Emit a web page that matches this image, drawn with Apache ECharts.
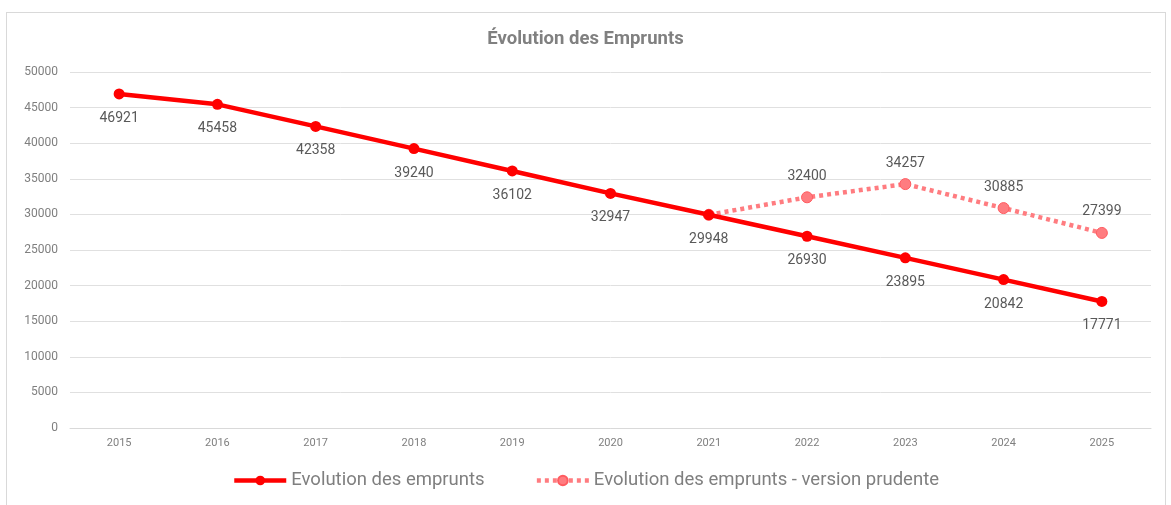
<!DOCTYPE html>
<html><head><meta charset="utf-8">
<script src="https://cdn.jsdelivr.net/npm/echarts@6/dist/echarts.min.js"></script>
<style>
html,body{margin:0;padding:0;background:#fff;}
#frame{position:absolute;left:6px;top:12px;width:1158px;height:520px;border:1px solid #d9d9d9;}
#c{position:absolute;left:0;top:0;width:1171px;height:505px;}
</style></head>
<body><div id="frame"></div><div id="c"></div>
<script>
const categories = ['2015','2016','2017','2018','2019','2020','2021','2022','2023','2024','2025'];
const emprunts = [46921,45458,42358,39240,36102,32947,29948,26930,23895,20842,17771];
const prudente = [null,null,null,null,null,null,29948,32400,34257,30885,27399];
const seriesNames = ['Evolution des emprunts','Evolution des emprunts - version prudente'];
const titleText = 'Évolution des Emprunts';

const chart = echarts.init(document.getElementById('c'), null, {renderer:'canvas'});
chart.setOption({
  animation:false,
  backgroundColor:'transparent',
  title:{text:titleText,left:'center',top:25,textStyle:{fontFamily:'Roboto',fontSize:18.5,fontWeight:'bold',color:'#808080'}},
  grid:{left:70,right:20,top:72,bottom:77},
  legend:{bottom:10,left:'center',itemWidth:52,itemHeight:12,itemGap:50,
    textStyle:{fontFamily:'Roboto',fontSize:18.5,color:'#7f7f7f'},
    data:[
      {name:seriesNames[0],lineStyle:{width:4.5,color:'#ff0000'}},
      {name:seriesNames[1],lineStyle:{width:4.5,color:'#ff7c80',type:[4,4]}}
    ]},
  xAxis:{type:'category',data:categories,boundaryGap:true,
    axisLine:{lineStyle:{color:'#d9d9d9'}},axisTick:{show:false},
    axisLabel:{fontFamily:'Roboto',fontSize:11,color:'#7f7f7f',margin:10}},
  yAxis:{type:'value',min:0,max:50000,interval:5000,
    axisLine:{show:false},axisTick:{show:false},
    splitLine:{lineStyle:{color:'#e0e0e0',width:1}},
    axisLabel:{fontFamily:'Roboto',fontSize:12,color:'#7f7f7f',margin:12,formatter:v=>String(v)}},
  series:[
    {name:seriesNames[0],type:'line',data:emprunts,symbol:'circle',symbolSize:11,
      lineStyle:{color:'#ff0000',width:4.5},itemStyle:{color:'#ff0000'},
      label:{show:true,position:'bottom',distance:12,fontFamily:'Roboto',fontSize:14,color:'#595959'},z:3},
    {name:seriesNames[1],type:'line',data:prudente,symbol:'circle',symbolSize:11,connectNulls:false,
      lineStyle:{color:'#ff7c80',width:4.5,type:[4,4]},itemStyle:{color:'#ff7c80',borderColor:'#ff5b60',borderWidth:1},
      label:{show:true,position:'top',distance:8,fontFamily:'Roboto',fontSize:14,color:'#595959',
        formatter:p=>p.dataIndex===6?'':p.value},z:2}
  ]
});
</script></body></html>
